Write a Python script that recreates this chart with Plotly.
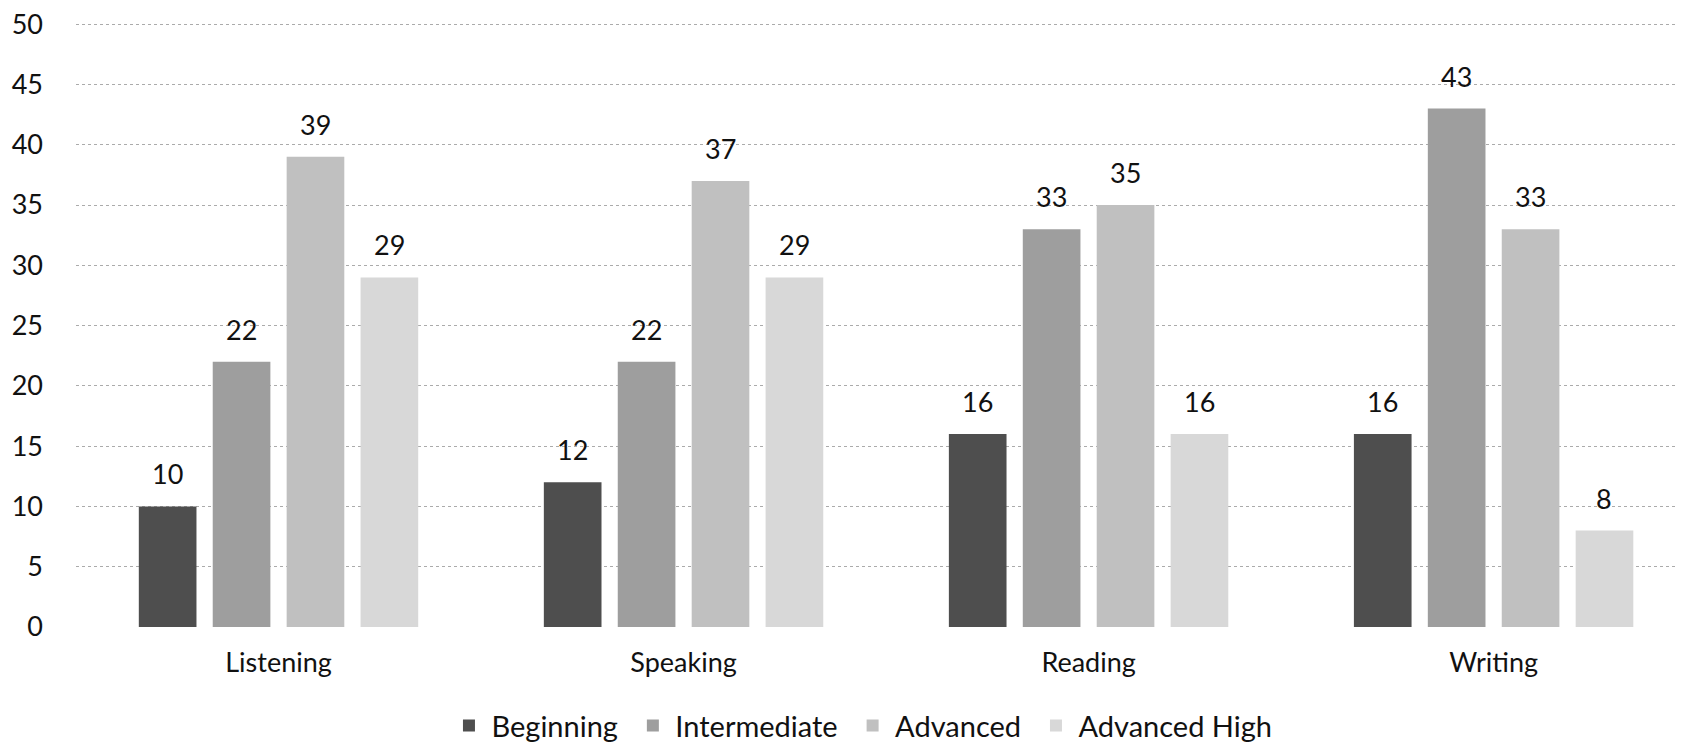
import plotly.graph_objects as go

categories = ["Listening", "Speaking", "Reading", "Writing"]
beginning = [10, 12, 16, 16]
intermediate = [22, 22, 33, 43]
advanced = [39, 37, 35, 33]
advanced_high = [29, 29, 16, 8]
series_names = ["Beginning", "Intermediate", "Advanced", "Advanced High"]
colors = ["#4e4e4e", "#9e9e9e", "#c0c0c0", "#d8d8d8"]
y_ticks = [0, 5, 10, 15, 20, 25, 30, 35, 40, 45, 50]

FONT = "Lato"
BARGAP = 0.27
all_series = [beginning, intermediate, advanced, advanced_high]
n = len(all_series)

fig = go.Figure()
annotations = []
for i, (name, vals, col) in enumerate(zip(series_names, all_series, colors)):
    fig.add_trace(go.Bar(
        x=categories, y=vals, name=name + "\u00a0",
        marker=dict(color=col, line=dict(width=0)),
        cliponaxis=False,
    ))
    slot = (1 - BARGAP) / n
    for idx, v in enumerate(vals):
        annotations.append(dict(
            x=idx - (1 - BARGAP) / 2 + slot * (i + 0.5), y=v, xref="x", yref="y",
            text=str(v), showarrow=False, yanchor="bottom", yshift=14,
            font=dict(family=FONT, size=27, color="#111"),
        ))

fig.update_layout(
    width=1678, height=736,
    margin=dict(l=68, r=0, t=15, b=117),
    paper_bgcolor="white", plot_bgcolor="white",
    barmode="group", bargap=BARGAP, bargroupgap=0.22,
    font=dict(family=FONT, size=26, color="#111"),
    showlegend=True,
    annotations=annotations,
    legend=dict(orientation="h", x=0.511, xanchor="center", xref="container",
                y=0.025, yanchor="middle", yref="container",
                font=dict(family=FONT, size=29, color="#111"),
                itemwidth=35, tracegroupgap=0),
    xaxis=dict(showgrid=False, showline=False, ticks="", ticklabelstandoff=17,
               range=[-0.5, 3.475], automargin=False,
               tickfont=dict(family=FONT, size=27, color="#111")),
    yaxis=dict(range=[0, 50.1], tickvals=y_ticks, showgrid=True, gridcolor="#ababab",
               griddash="dot", gridwidth=1, zeroline=False, showline=False,
               automargin=False, ticklabeloverflow="allow",
               ticklabelstandoff=32, tickfont=dict(family=FONT, size=27, color="#111")),
)

fig.write_html("out.html")
